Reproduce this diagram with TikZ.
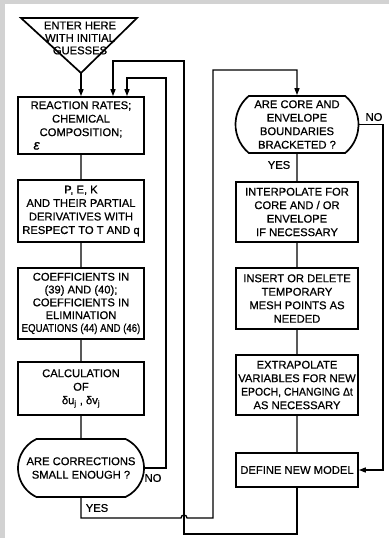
\documentclass[tikz,border=0pt]{standalone}
\usepackage{fontspec}
\setmainfont{Liberation Sans}[FakeBold=0.7]
\usetikzlibrary{arrows.meta,shapes.misc}
\begin{document}
\begin{tikzpicture}[x=1pt,y=-1pt,
  box/.style={draw,line width=1.7pt,align=center,font=\fontsize{11.2}{13.5}\selectfont,inner sep=1pt},
  stad/.style={box,rounded rectangle},
  conn/.style={line width=1.3pt},
  arr/.style={conn,-{Triangle[length=7pt,width=5pt]}},
  lbl/.style={font=\fontsize{11.2}{13}\selectfont,inner sep=0pt}]
\fill[gray!35] (0,0) rectangle (389,538);
\fill[white] (5,4) rectangle (389,538);
\useasboundingbox (0,0) rectangle (389,538);
% entry triangle
\draw[line width=1.7pt] (21,18) -- (137,18) -- (81,73) -- cycle;
\coordinate (apex) at (81,73);
\node[lbl,align=center,font=\fontsize{11.2}{12.5}\selectfont] (enter) at (80,38) {ENTER HERE\\WITH INITIAL\\GUESSES};
% left column
\node[box,minimum width=126pt,minimum height=57pt] (b1) at (81,125.5) {REACTION RATES;\\CHEMICAL\\COMPOSITION;\\\makebox[95pt][l]{\fontsize{14}{13.5}\selectfont\itshape ε}};
\node[box,minimum width=126pt,minimum height=62pt] (b2) at (81,211) {P, E, K\\AND THEIR PARTIAL\\DERIVATIVES WITH\\RESPECT TO T AND q};
\node[box,minimum width=126pt,minimum height=71pt,font=\fontsize{11.2}{12.8}\selectfont] (b3) at (81,303.5) {COEFFICIENTS IN\\(39) AND (40);\\COEFFICIENTS IN\\ELIMINATION\\\scalebox{0.86}[1]{EQUATIONS (44) AND (46)}};
\node[box,minimum width=126pt,minimum height=53pt] (b4) at (81,388.5) {CALCULATION\\OF\\δu\textsubscript{j} , δv\textsubscript{j}};
\node[stad,rounded rectangle arc length=130,minimum width=128pt,minimum height=58pt] (s1) at (81,468) {ARE CORRECTIONS\\SMALL ENOUGH ?};
% right column
\node[stad,rounded rectangle arc length=100,minimum width=125pt,minimum height=57pt] (s2) at (297,124.5) {ARE CORE AND\\ENVELOPE\\BOUNDARIES\\BRACKETED ?};
\node[box,minimum width=122pt,minimum height=60pt] (b5) at (297,212) {INTERPOLATE FOR\\CORE AND / OR\\ENVELOPE\\IF NECESSARY};
\node[box,minimum width=122pt,minimum height=61pt] (b6) at (297,298.5) {INSERT OR DELETE\\TEMPORARY\\MESH POINTS AS\\NEEDED};
\node[box,minimum width=122pt,minimum height=60pt] (b7) at (297,385) {EXTRAPOLATE\\VARIABLES FOR NEW\\\scalebox{0.93}[1]{EPOCH, CHANGING Δt}\\AS NECESSARY};
\node[box,minimum width=122pt,minimum height=34pt] (b8) at (297,470) {DEFINE NEW MODEL};
% labels
\node[lbl] (no1) at (153,478) {NO};
\node[lbl] (yes1) at (97,508) {YES};
\node[lbl] (no2) at (374,117) {NO};
\node[lbl] (yes2) at (279,165) {YES};
% straight connectors
\draw[arr] (apex) -- (apex |- b1.north);
\draw[conn] (b1) -- (b2) -- (b3) -- (b4) -- (s1);
\draw[conn] (s2) -- (b5) -- (b6) -- (b7) -- (b8);
% NO loop of left decision
\coordinate (na) at (166,78);
\coordinate (nb) at (127,78);
\draw[arr] (s1.east) -| (na) -- (nb) -- (nb |- b1.north);
% return loop from new model
\coordinate (da) at (184,534);
\coordinate (db) at (184,61);
\coordinate (dc) at (113,61);
\draw[arr] (b8.south) |- (da) -- (db) -- (dc) -- (dc |- b1.north);
% YES path to right column, jumping over the return line
\coordinate (jl) at (181,518);
\coordinate (ya) at (213,518);
\coordinate (yb) at (213,70);
\draw[arr] (s1.south) |- (jl) arc[start angle=180,end angle=360,radius=3] -- (ya) -- (yb) -| (s2.north);
% NO path of right decision
\coordinate (ea) at (383,470);
\draw[arr] (s2.east) -| (ea) -- (b8.east);
\end{tikzpicture}
\end{document}
